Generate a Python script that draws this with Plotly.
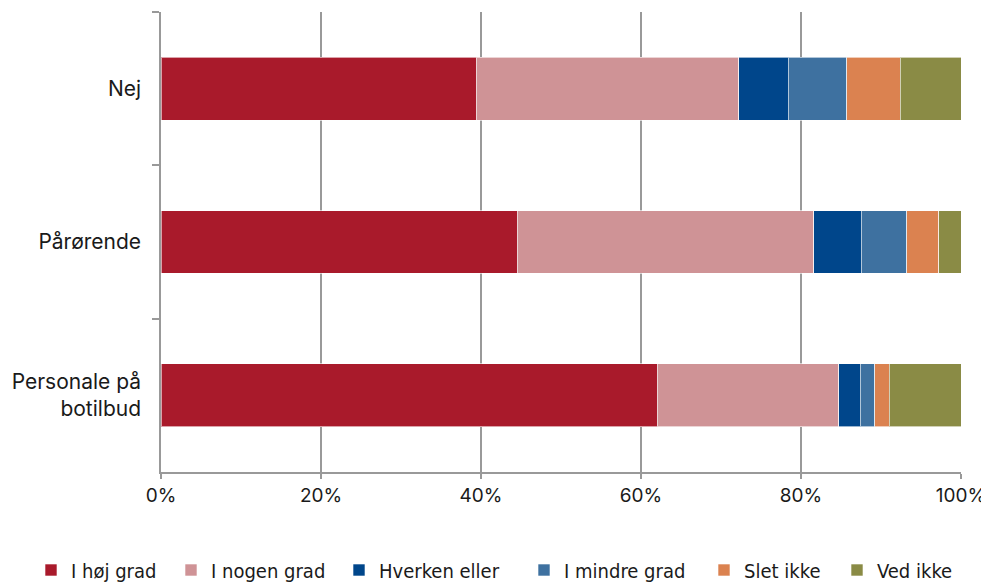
import plotly.graph_objects as go

categories = ["Nej", "Pårørende", "Personale på<br>botilbud"]
series_names = ["I høj grad", "I nogen grad", "Hverken eller", "I mindre grad", "Slet ikke", "Ved ikke"]
hoj_grad = [39.4, 44.5, 62.0]
nogen_grad = [32.8, 37.1, 22.7]
hverken = [6.2, 5.9, 2.7]
mindre_grad = [7.3, 5.7, 1.8]
slet_ikke = [6.7, 4.0, 1.8]
ved_ikke = [7.6, 2.8, 9.0]
colors = ["#A91A2B", "#CF9396", "#00468B", "#3E71A0", "#DB8250", "#8A8B45"]
x_ticks = [0, 20, 40, 60, 80, 100]
x_tick_labels = ["0%", "20%", "40%", "60%", "80%", "100%"]

values = [hoj_grad, nogen_grad, hverken, mindre_grad, slet_ikke, ved_ikke]

# horizontal placement of each legend entry (paper coordinates)
legend_x = [-0.1625, 0.0125, 0.2225, 0.45375, 0.67875, 0.845]
legend_ids = ["legend", "legend2", "legend3", "legend4", "legend5", "legend6"]

fig = go.Figure()
for name, vals, col, lid in zip(series_names, values, colors, legend_ids):
    fig.add_trace(go.Bar(
        y=categories, x=vals, name=name, orientation="h", legend=lid,
        marker=dict(color=col, line=dict(color="rgba(255,255,255,0.6)", width=1)),
    ))

legend_font = dict(family="DejaVu Sans Condensed, Liberation Sans", size=20, color="#1a1a1a")
layout_legends = {}
for lid, lx in zip(legend_ids, legend_x):
    layout_legends[lid] = dict(orientation="h", x=lx, xanchor="left",
                               yref="container", y=0.036, yanchor="middle",
                               font=legend_font, itemwidth=30, bgcolor="rgba(0,0,0,0)")

fig.update_layout(
    barmode="stack",
    bargap=0.59,
    width=989, height=583,
    margin=dict(l=153, r=36, t=4, b=119, autoexpand=False),
    paper_bgcolor="white", plot_bgcolor="white",
    font=dict(family="Inter", size=19, color="#1a1a1a"),
    showlegend=True,
    **layout_legends,
)
fig.update_xaxes(
    range=[0, 100], tickvals=x_ticks, ticktext=x_tick_labels,
    showgrid=True, gridcolor="#999999", gridwidth=1.5,
    showline=True, linecolor="#999999", linewidth=1.5,
    ticks="outside", ticklen=5, tickcolor="#999999", tickwidth=1.5,
    zeroline=False, tickfont=dict(size=19), automargin=False,
)
fig.update_yaxes(
    autorange="reversed", showgrid=False,
    showline=True, linecolor="#999999", linewidth=1.5,
    ticks="outside", ticklen=7, tickcolor="#999999", tickwidth=1.5,
    tickson="boundaries", ticklabelstandoff=14, tickfont=dict(size=21),
    automargin=False,
)

fig.write_html("out.html")
